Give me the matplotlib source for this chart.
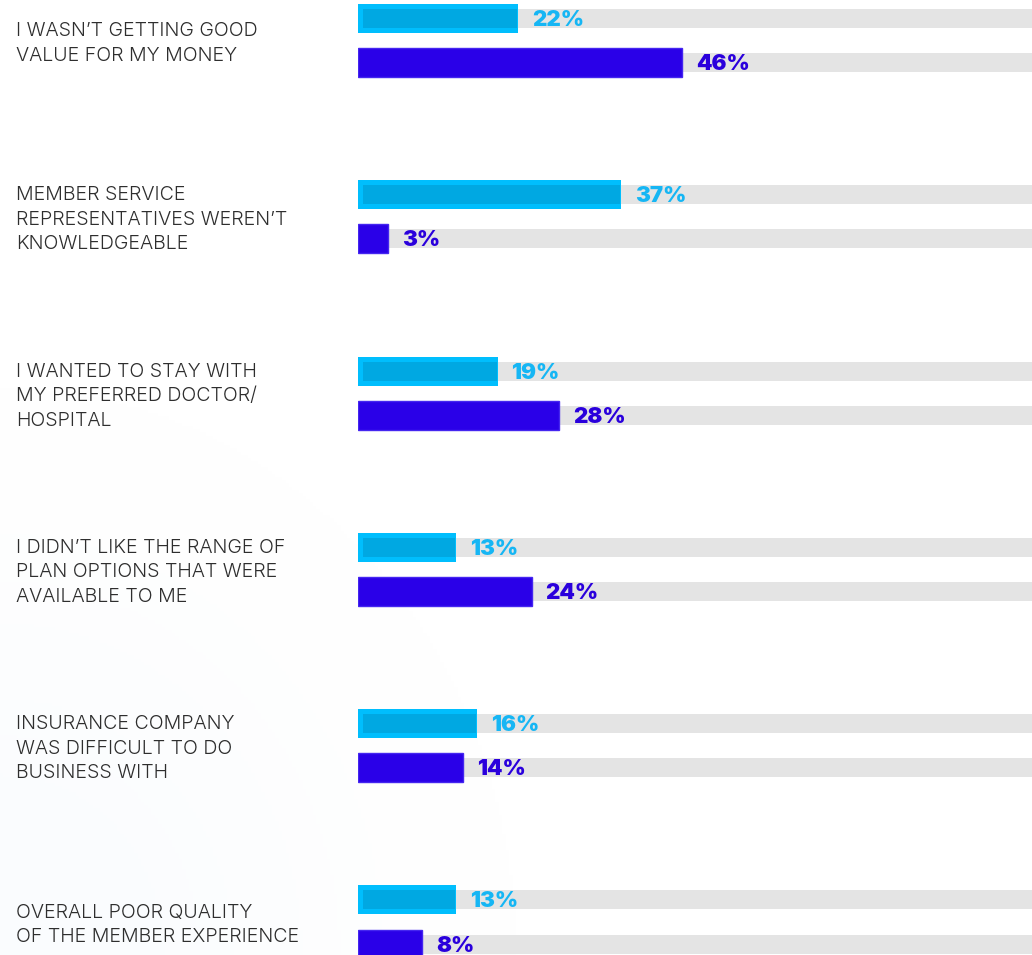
import numpy as np
import matplotlib
matplotlib.use("Agg")
import matplotlib.pyplot as plt
from matplotlib.transforms import blended_transform_factory

categories = [
    "I WASN\u2019T GETTING GOOD\nVALUE FOR MY MONEY",
    "MEMBER SERVICE\nREPRESENTATIVES WEREN\u2019T\nKNOWLEDGEABLE",
    "I WANTED TO STAY WITH\nMY PREFERRED DOCTOR/\nHOSPITAL",
    "I DIDN\u2019T LIKE THE RANGE OF\nPLAN OPTIONS THAT WERE\nAVAILABLE TO ME",
    "INSURANCE COMPANY\nWAS DIFFICULT TO DO\nBUSINESS WITH",
    "OVERALL POOR QUALITY\nOF THE MEMBER EXPERIENCE",
]
series_a = [22, 37, 19, 13, 16, 13]
series_b = [46, 3, 28, 24, 14, 8]

W, H, DPI = 1032, 955, 100
fig = plt.figure(figsize=(W / DPI, H / DPI), dpi=DPI)
fig.patch.set_facecolor("white")

# faint blue haze in the lower-left corner
bg = fig.add_axes([0, 0, 1, 1], zorder=-5)
gx, gy = np.meshgrid(np.linspace(0, 1, 300), np.linspace(0, 1, 300))
d2 = (gx / 0.32) ** 2 + ((1 - gy) / 0.38) ** 2
a = np.exp(-d2) * 0.045
img = np.zeros((300, 300, 4))
img[..., 0] = 0.55
img[..., 1] = 0.75
img[..., 2] = 0.95
img[..., 3] = a
bg.imshow(img, extent=[0, 1, 0, 1], origin="upper", aspect="auto")
bg.axis("off")

x_left_px = 358
ax = fig.add_axes([x_left_px / W, 0, (W - x_left_px) / W, 1])
px_per_unit = 6.84
lo = -1.4
hi = lo + (W - x_left_px) / px_per_unit
ax.set_xlim(lo, hi)

row_px = 176.3
top = -40.5 / row_px
ax.set_ylim(top + H / row_px, top)
ax.axis("off")

n = len(categories)
y = np.arange(n)
off = 0.125
bar_h = 29 / row_px
track_h = 19 / row_px
px = 1 / px_per_unit
vpx = 1 / row_px

c_light = "#00BEFD"
c_light_in = "#00A8E2"
c_dark = "#2A00E8"
c_dark_edge = "#4526F0"
t_light = "#16B6F4"
t_dark = "#2A00DC"

for yy in (y - off, y + off):
    ax.barh(yy, hi - lo, left=lo, height=track_h, color="#E4E4E4", zorder=1)

va = np.array(series_a, dtype=float)
vb = np.array(series_b, dtype=float)

ax.barh(y - off, va - lo, left=lo, height=bar_h, color=c_light, zorder=2)
ax.barh(y - off, va - lo - 6 * px, left=lo + 5 * px, height=track_h,
        color=c_light_in, zorder=3)
ax.barh(y + off, vb - lo, left=lo, height=bar_h, color=c_dark,
        edgecolor=c_dark_edge, linewidth=1.0, zorder=2)

val_font = dict(family="Inter", fontweight=900, fontsize=16)
for i in range(n):
    ax.text(va[i] + 14 * px, y[i] - off + 1.5 * vpx, f"{series_a[i]}%",
            color=t_light, va="center", ha="left", zorder=4, **val_font)
    ax.text(vb[i] + 14 * px, y[i] + off + 1.5 * vpx, f"{series_b[i]}%",
            color=t_dark, va="center", ha="left", zorder=4, **val_font)

tr = blended_transform_factory(fig.transFigure, ax.transData)
for i, cat in enumerate(categories):
    ax.text(16 / W, y[i] + 3 * vpx, cat, transform=tr, ha="left", va="center",
            family="Inter", fontweight=300, fontsize=14.1, color="#2E2E2E",
            linespacing=1.47, clip_on=False)

fig.savefig("out.png", dpi=DPI, facecolor="white")
